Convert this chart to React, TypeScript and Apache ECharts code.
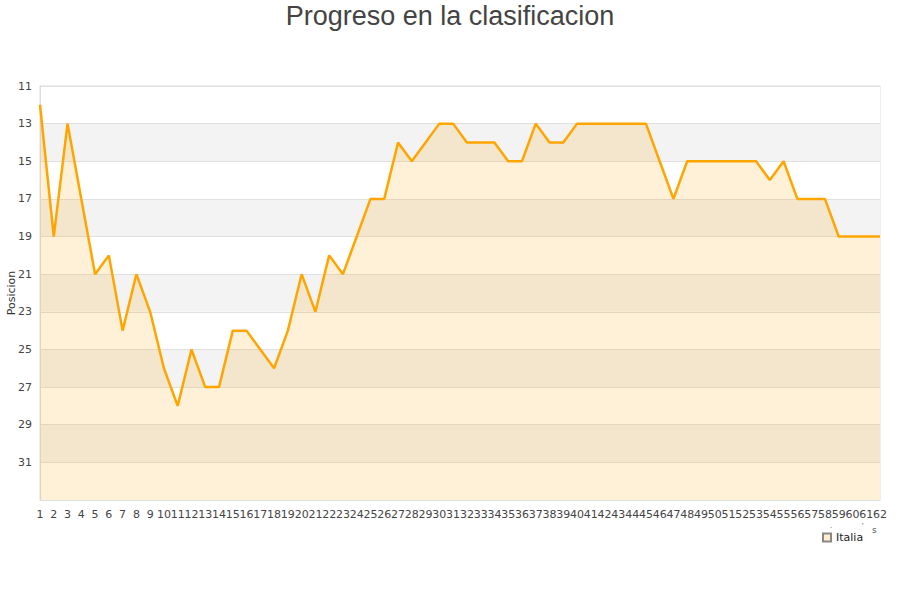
import React, { useEffect, useRef } from 'react';
import * as echarts from 'echarts';

const jornadas: string[] = Array.from({ length: 62 }, (_, i) => String(i + 1));

const italia: number[] = [
    12, 19, 13, 17, 21, 20, 24, 21, 23, 26,
    28, 25, 27, 27, 24, 24, 25, 26, 24, 21,
    23, 20, 21, 19, 17, 17, 14, 15, 14, 13,
    13, 14, 14, 14, 15, 15, 13, 14, 14, 13,
    13, 13, 13, 13, 13, 15, 17, 15, 15, 15,
    15, 15, 15, 16, 15, 17, 17, 17, 19, 19,
    19, 19
];

const posMin = 11;
const posMax = 33;

const App: React.FC = () => {
    const chartRef = useRef<HTMLDivElement>(null);

    useEffect(() => {
        document.body.style.margin = '0';
        if (!chartRef.current) return;

        const chart = echarts.init(chartRef.current, undefined, { renderer: 'svg' });

        const option = {
            animation: false,
            title: {
                text: 'Progreso en la clasificacion',
                left: 'center',
                top: -3,
                textStyle: {
                    fontFamily: 'Liberation Sans',
                    fontSize: 27,
                    fontWeight: 'normal',
                    color: '#444'
                }
            },
            legend: {
                data: ['Italia'],
                left: 817,
                top: 527,
                icon: 'rect',
                itemWidth: 8,
                itemHeight: 8,
                itemGap: 5,
                textStyle: { fontFamily: 'DejaVu Sans', fontSize: 11, color: '#222' }
            },
            grid: {
                left: 40,
                right: 20,
                top: 86,
                bottom: 100,
                outerBoundsMode: 'none',
                containLabel: false,
                show: true,
                borderColor: '#dddddd',
                borderWidth: 1,
                backgroundColor: 'transparent'
            },
            xAxis: {
                type: 'category',
                data: jornadas,
                boundaryGap: false,
                axisLine: { onZero: false, lineStyle: { color: '#dddddd' } },
                axisTick: { show: false },
                axisLabel: {
                    interval: 0,
                    margin: 9,
                    fontFamily: 'DejaVu Sans',
                    fontSize: 11,
                    color: '#444'
                },
                splitLine: { show: false }
            },
            yAxis: {
                type: 'value',
                inverse: true,
                min: posMin,
                max: posMax,
                interval: 2,
                name: 'Posicion',
                nameLocation: 'middle',
                nameGap: 23,
                nameMoveOverlap: false,
                nameTextStyle: { fontFamily: 'DejaVu Sans', fontSize: 11, color: '#333' },
                axisLine: { show: true, lineStyle: { color: '#dddddd' } },
                axisTick: { show: false },
                axisLabel: {
                    showMaxLabel: false,
                    margin: 8,
                    fontFamily: 'DejaVu Sans',
                    fontSize: 11,
                    color: '#444'
                },
                splitLine: { lineStyle: { color: '#e0e0e0' } },
                splitArea: { show: true, areaStyle: { color: ['#ffffff', '#f3f3f3'] } }
            },
            graphic: [
                { type: 'text', left: 830, top: 521, style: { text: '.', fontSize: 8, fill: '#555' } },
                { type: 'text', left: 862, top: 521, style: { text: "'", fontSize: 8, fill: '#555' } },
                { type: 'text', left: 872, top: 525, style: { text: 's', fontSize: 9, fill: '#555', fontFamily: 'DejaVu Sans' } }
            ],
            series: [
                {
                    name: 'Italia',
                    type: 'line',
                    data: italia,
                    symbol: 'none',
                    lineStyle: { color: '#ffa500', width: 2.5 },
                    itemStyle: { color: '#ffedcc', borderColor: '#888', borderWidth: 1 },
                    areaStyle: { origin: 'end', color: 'rgba(255,165,0,0.22)' }
                }
            ]
        };

        chart.setOption(option);

        const handleResize = () => chart.resize();
        window.addEventListener('resize', handleResize);

        return () => {
            window.removeEventListener('resize', handleResize);
            chart.dispose();
        };
    }, []);

    return <div ref={chartRef} style={{ width: 900, height: 600 }} />;
};

export default App;
